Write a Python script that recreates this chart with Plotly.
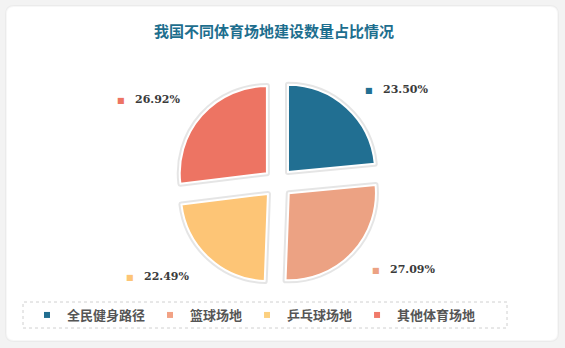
import math
import plotly.graph_objects as go

# ---- data ----
categories = ["全民健身路径", "篮球场地", "乒乓球场地", "其他体育场地"]
values = [23.50, 27.09, 22.49, 26.92]
colors = ["#216f92", "#eca283", "#fdc576", "#ed7463"]
legend_colors = ["#226e90", "#f2a285", "#fcd07f", "#f07a6a"]
title_text = "我国不同体育场地建设数量占比情况"

W, H = 565, 348
# pie placement (pixels)
cx, cy, half = 278, 183, 102
pull = 0.17

fig = go.Figure()

dom_x = [(cx - half) / W, (cx + half) / W]
dom_y = [1 - (cy + half) / H, 1 - (cy - half) / H]

# shadow layer
fig.add_trace(go.Pie(
    labels=categories, values=values, sort=False, direction="clockwise",
    rotation=0, pull=[pull] * 4, domain=dict(x=dom_x, y=dom_y),
    marker=dict(colors=colors, line=dict(color="rgba(0,0,0,0.10)", width=6)),
    textinfo="none", hoverinfo="skip", showlegend=False,
))
# main pie
fig.add_trace(go.Pie(
    labels=categories, values=values, sort=False, direction="clockwise",
    rotation=0, pull=[pull] * 4, domain=dict(x=dom_x, y=dom_y),
    marker=dict(colors=colors, line=dict(color="white", width=2)),
    textinfo="none", showlegend=False,
))

# legend entries
for name, c in zip(categories, legend_colors):
    fig.add_trace(go.Scatter(
        x=[None], y=[None], mode="markers", name=name,
        marker=dict(symbol="square", size=6, color=c),
    ))

# outside labels from data angles
total = sum(values)
r_pix = half / (1 + pull)
R_lab = r_pix * 1.45
cum = 0
annotations = []
for v, c in zip(values, colors):
    mid = (cum + v / 2) / total * 2 * math.pi
    cum += v
    px = cx + R_lab * math.sin(mid)
    py = cy - R_lab * math.cos(mid)
    right = math.sin(mid) >= 0
    txt = (f'<span style="color:{c};font-size:8px">■</span>'
           f'&nbsp;&nbsp;&nbsp;<b>{v:.2f}%</b>')
    annotations.append(dict(
        x=px / W, y=1 - py / H, xref="paper", yref="paper",
        text=txt, showarrow=False,
        xanchor="left" if right else "right", yanchor="middle",
        font=dict(size=11, color="#3a3a3a", family="DejaVu Serif"),
    ))

annotations.append(dict(
    x=274 / W, y=1 - 31 / H, xref="paper", yref="paper",
    text=f"<b>{title_text}</b>", showarrow=False,
    xanchor="center", yanchor="middle",
    font=dict(size=15, color="#1d6e8e", family="Noto Sans CJK SC"),
))

shapes = [
    # white card
    dict(type="path", xref="paper", yref="paper", layer="below",
         path=("M {x0},{y0} L {x1},{y0} Q {x2},{y0} {x2},{y1} L {x2},{y2} "
               "Q {x2},{y3} {x1},{y3} L {x0},{y3} Q {xa},{y3} {xa},{y2} "
               "L {xa},{y1} Q {xa},{y0} {x0},{y0} Z").format(
             xa=6 / W, x0=14 / W, x1=550 / W, x2=558 / W,
             y0=1 - 6 / H, y1=1 - 14 / H, y2=1 - 333 / H, y3=1 - 341 / H),
         fillcolor="white", line=dict(color="rgba(0,0,0,0.03)", width=2)),
    # legend box
    dict(type="rect", xref="paper", yref="paper", layer="below",
         x0=23 / W, x1=507 / W, y0=1 - 328 / H, y1=1 - 302 / H,
         line=dict(color="#d0d0d0", width=1, dash="dot"), fillcolor="white"),
]

fig.update_layout(
    width=W, height=H,
    margin=dict(l=0, r=0, t=0, b=0),
    paper_bgcolor="#f3f3f3", plot_bgcolor="rgba(0,0,0,0)",
    xaxis=dict(visible=False), yaxis=dict(visible=False),
    showlegend=True,
    legend=dict(orientation="h", x=254 / W, y=1 - 315 / H,
                xanchor="center", yanchor="middle",
                bgcolor="rgba(0,0,0,0)",
                font=dict(size=13, color="#555555", family="Noto Sans CJK SC",
                          weight="bold")),
    annotations=annotations, shapes=shapes,
)

fig.write_html("out.html")
